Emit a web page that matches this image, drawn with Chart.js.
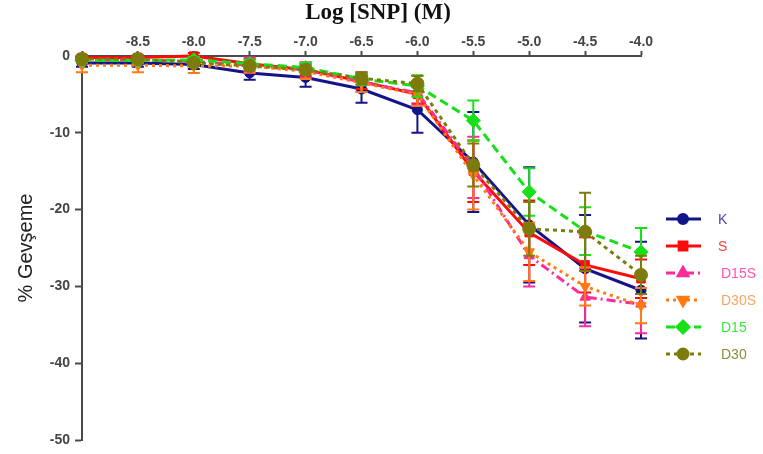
<!DOCTYPE html>
<html>
<head>
<meta charset="utf-8">
<script src="https://cdn.jsdelivr.net/npm/chart.js@4"></script>
<style>
  html, body { margin: 0; padding: 0; background: #ffffff; }
  #wrap { width: 763px; height: 454px; }
</style>
</head>
<body>
<div id="wrap"><canvas id="c" width="763" height="454"></canvas></div>
<script>
// Log concentration of SNP (M)
const logConc = [-9.0, -8.5, -8.0, -7.5, -7.0, -6.5, -6.0, -5.5, -5.0, -4.5, -4.0];
const xTickValues = [-8.5, -8.0, -7.5, -7.0, -6.5, -6.0, -5.5, -5.0, -4.5, -4.0];
const yTickValues = [0, -10, -20, -30, -40, -50];
const chartTitle = 'Log [SNP] (M)';

// % relaxation, mean and error per group
const kMean    = [-0.9, -0.9, -1.1, -2.2, -2.8, -4.3, -7.0, -13.8, -22.0, -27.7, -30.5];
const kErr     = [0.5, 0.5, 0.6, 0.9, 1.2, 1.8, 3.0, 6.5, 7.5, 7.0, 6.3];
const sMean    = [-0.2, -0.2, 0.0, -1.0, -1.8, -3.3, -5.0, -15.0, -23.0, -27.2, -29.0];
const sErr     = [0.3, 0.3, 0.4, 0.6, 0.8, 1.0, 1.2, 4.0, 4.2, 3.6, 2.5];
const d15sMean = [-0.5, -0.5, -0.7, -1.2, -1.8, -3.4, -4.8, -14.5, -26.0, -31.4, -32.3];
const d15sErr  = [0.3, 0.3, 0.4, 1.0, 1.0, 1.3, 1.5, 4.0, 4.0, 3.8, 3.8];
const d30sMean = [-1.2, -1.2, -1.3, -1.3, -2.0, -3.5, -5.0, -15.5, -25.5, -30.0, -32.5];
const d30sErr  = [0.9, 0.9, 0.9, 0.8, 1.0, 1.2, 1.5, 4.5, 3.8, 2.5, 2.3];
const d15Mean  = [-0.6, -0.6, -0.5, -1.0, -1.5, -3.0, -3.9, -8.4, -17.7, -22.8, -25.5];
const d15Err   = [0.3, 0.3, 0.4, 0.5, 0.6, 0.8, 1.4, 2.6, 3.1, 3.1, 3.1];
const d30Mean  = [-0.4, -0.4, -0.9, -1.3, -1.8, -2.9, -3.6, -14.2, -22.5, -22.9, -28.5];
const d30Err   = [0.3, 0.3, 0.4, 0.5, 0.6, 0.8, 1.0, 2.8, 3.5, 5.1, 2.5];

const seriesNames = ['K', 'S', 'D15S', 'D30S', 'D15', 'D30'];

function toPoints(means) {
  return logConc.map((x, i) => ({ x: x, y: means[i] }));
}

const styles = [
  { color: '#14148a', text: '#4a4aae', dash: [],            shape: 'circle',   rot: 0,   r: 5,   lr: 4.5 },
  { color: '#ff0a0a', text: '#ff3a3a', dash: [],            shape: 'rect',     rot: 0,   r: 6,   lr: 5.5 },
  { color: '#ff2a9a', text: '#ff55aa', dash: [9, 4, 2, 4],  shape: 'triangle', rot: 0,   r: 6,   lr: 5.5 },
  { color: '#ff7a10', text: '#f4a660', dash: [3, 4],        shape: 'triangle', rot: 180, r: 6,   lr: 5.5 },
  { color: '#18e018', text: '#3ce63c', dash: [9, 5],        shape: 'rectRot',  rot: 0,   r: 7,   lr: 6 },
  { color: '#7c7c0c', text: '#8c8c3c', dash: [4, 4],        shape: 'circle',   rot: 0,   r: 6.5, lr: 5 }
];
const meansList = [kMean, sMean, d15sMean, d30sMean, d15Mean, d30Mean];
const errList = [kErr, sErr, d15sErr, d30sErr, d15Err, d30Err];

const datasets = seriesNames.map((name, i) => ({
  label: name,
  data: toPoints(meansList[i]),
  errors: errList[i],
  borderColor: styles[i].color,
  backgroundColor: styles[i].color,
  borderWidth: 3,
  borderDash: styles[i].dash,
  pointStyle: styles[i].shape,
  pointRotation: styles[i].rot,
  pointRadius: styles[i].r,
  pointBorderWidth: 1,
  pointBackgroundColor: styles[i].color,
  pointBorderColor: styles[i].color,
  tension: 0,
  clip: false,
  order: seriesNames.length - i
}));

// Vertical error bars with caps, drawn under each series' line and markers
const errorBars = {
  id: 'errorBars',
  beforeDatasetDraw(chart, args) {
    const ds = chart.data.datasets[args.index];
    const meta = args.meta;
    const ys = chart.scales.y;
    const ctx = chart.ctx;
    ctx.save();
    ctx.strokeStyle = ds.borderColor;
    ctx.lineWidth = 2;
    ctx.setLineDash([]);
    meta.data.forEach((pt, j) => {
      const v = ds.data[j].y;
      const e = ds.errors[j];
      const yTop = ys.getPixelForValue(v + e);
      const yBot = ys.getPixelForValue(v - e);
      const x = pt.x;
      ctx.beginPath();
      ctx.moveTo(x, yTop); ctx.lineTo(x, yBot);
      ctx.moveTo(x - 6, yTop); ctx.lineTo(x + 6, yTop);
      ctx.moveTo(x - 6, yBot); ctx.lineTo(x + 6, yBot);
      ctx.stroke();
    });
    ctx.restore();
  }
};

// Heading above the top axis
const heading = {
  id: 'heading',
  afterDraw(chart) {
    const ctx = chart.ctx;
    ctx.save();
    ctx.fillStyle = '#111';
    ctx.font = 'bold 23px "Liberation Serif", "Times New Roman", serif';
    ctx.textAlign = 'center';
    ctx.textBaseline = 'middle';
    ctx.fillText(chartTitle, 378, 13);
    ctx.restore();
  }
};

// Legend at the right: line sample with marker, then the group name
const sideLegend = {
  id: 'sideLegend',
  afterDraw(chart) {
    const ctx = chart.ctx;
    const rows = [219, 246, 273, 300, 327, 354];
    chart.data.datasets.forEach((ds, i) => {
      const y = rows[i];
      const st = styles[i];
      ctx.save();
      ctx.strokeStyle = st.color;
      ctx.lineWidth = 3;
      ctx.setLineDash(st.dash);
      ctx.beginPath();
      ctx.moveTo(666, y); ctx.lineTo(701, y);
      ctx.stroke();
      ctx.setLineDash([]);
      ctx.fillStyle = st.color;
      ctx.strokeStyle = st.color;
      Chart.helpers.drawPoint(ctx, {
        pointStyle: st.shape, radius: st.lr, rotation: st.rot, borderWidth: 1
      }, 683, y);
      ctx.fillStyle = st.text;
      ctx.font = '14px "Liberation Sans", Arial, sans-serif';
      ctx.textBaseline = 'middle';
      ctx.textAlign = 'left';
      ctx.fillText(ds.label, 718 + (i >= 2 ? 3 : 0), y + 1);
      ctx.restore();
    });
  }
};

const axisGrey = '#4a4a4a';
const tickFont = { family: '"Liberation Sans", Arial, sans-serif', size: 14, weight: 'bold' };

new Chart(document.getElementById('c'), {
  type: 'line',
  data: { datasets: datasets },
  options: {
    responsive: false,
    animation: false,
    layout: { padding: { left: 0, right: 122, top: 26, bottom: 14 } },
    plugins: {
      legend: { display: false },
      tooltip: { enabled: false },
      title: { display: false }
    },
    scales: {
      x: {
        type: 'linear',
        position: 'top',
        min: -9,
        max: -4,
        afterFit(s) { s.height = 30; },
        afterBuildTicks(s) {
          s.ticks = [{ value: -9 }].concat(xTickValues.map(v => ({ value: v })));
        },
        ticks: {
          color: '#444',
          font: tickFont,
          padding: 0,
          maxRotation: 0,
          autoSkip: false,
          callback: (v) => (v === -9 ? '' : Number(v).toFixed(1))
        },
        grid: { drawOnChartArea: false, drawTicks: true, tickLength: 5, tickWidth: 2, tickColor: axisGrey },
        border: { display: true, color: axisGrey, width: 2 }
      },
      y: {
        type: 'linear',
        min: -50,
        max: 0,
        afterFit(s) { s.width = 82; },
        afterBuildTicks(s) {
          s.ticks = yTickValues.map(v => ({ value: v }));
        },
        ticks: {
          color: '#444',
          font: tickFont,
          padding: 5,
          autoSkip: false,
          callback: (v) => String(v)
        },
        title: {
          display: true,
          text: '% Gevşeme',
          color: '#222',
          font: { family: '"Liberation Sans", Arial, sans-serif', size: 20 },
          padding: { top: 14, bottom: 0 }
        },
        grid: { drawOnChartArea: false, drawTicks: true, tickLength: 7, tickWidth: 2, tickColor: axisGrey },
        border: { display: true, color: axisGrey, width: 2 }
      }
    }
  },
  plugins: [errorBars, sideLegend, heading]
});
</script>
</body>
</html>
